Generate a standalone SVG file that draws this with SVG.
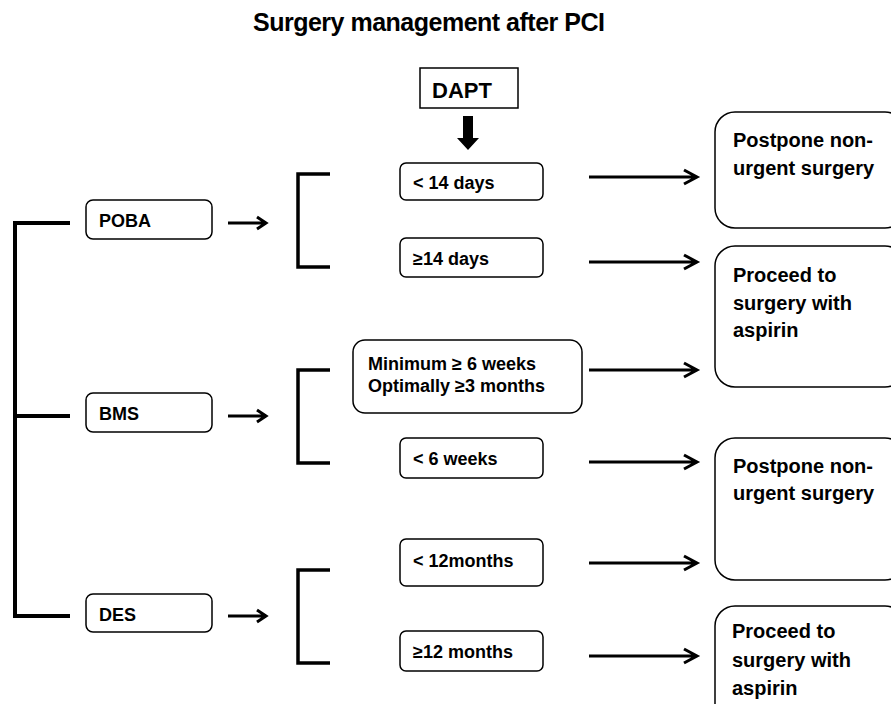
<svg xmlns="http://www.w3.org/2000/svg" width="891" height="704" viewBox="0 0 891 704">
<defs>
<style>
text{font-family:"Liberation Sans",Arial,sans-serif;font-weight:bold;fill:#000}
.t{font-size:18px}
.big{font-size:20px}
.box{fill:#fff;stroke:#000;stroke-width:1.5}
.tree{fill:none;stroke:#000;stroke-width:4}
.br{fill:none;stroke:#000;stroke-width:3.5}
.ar{fill:none;stroke:#000;stroke-width:3}
</style>
</defs>
<rect width="891" height="704" fill="#fff"/>
<text x="253" y="31" font-size="25" letter-spacing="-0.5">Surgery management after PCI</text>

<g id="dapt">
<rect class="box" x="420" y="68" width="98" height="40"/>
<text x="432" y="98" font-size="22">DAPT</text>
</g>

<g id="poba"><rect class="box" x="86" y="200" width="126" height="39" rx="7"/><text class="t" x="99" y="227">POBA</text></g>
<g id="bms"><rect class="box" x="86" y="393" width="126" height="39" rx="7"/><text class="t" x="99" y="420">BMS</text></g>
<g id="des"><rect class="box" x="86" y="594" width="126" height="38" rx="7"/><text class="t" x="99" y="621">DES</text></g>

<g id="lt14d"><rect class="box" x="400" y="163" width="143" height="37" rx="6"/><text class="t" x="413" y="189">&lt; 14 days</text></g>
<g id="ge14d"><rect class="box" x="400" y="238" width="143" height="39" rx="6"/><text class="t" x="413" y="265">≥14 days</text></g>
<g id="min6w"><rect class="box" x="353" y="340" width="229" height="73" rx="12"/>
<text class="t" x="368" y="370">Minimum ≥ 6 weeks</text>
<text class="t" x="368" y="392">Optimally ≥3 months</text></g>
<g id="lt6w"><rect class="box" x="400" y="438" width="143" height="40" rx="6"/><text class="t" x="413" y="465">&lt; 6 weeks</text></g>
<g id="lt12m"><rect class="box" x="400" y="539" width="143" height="47" rx="6"/><text class="t" x="413" y="567">&lt; 12months</text></g>
<g id="ge12m"><rect class="box" x="400" y="631" width="143" height="40" rx="6"/><text class="t" x="413" y="658">≥12 months</text></g>

<g id="postpone1"><rect class="box" x="715" y="112" width="190" height="116" rx="20"/>
<text class="big" x="733" y="147">Postpone non-</text><text class="big" x="733" y="175">urgent surgery</text></g>
<g id="proceed1"><rect class="box" x="715" y="246" width="190" height="141" rx="20"/>
<text class="big" x="733" y="282">Proceed to</text><text class="big" x="733" y="310">surgery with</text><text class="big" x="733" y="337">aspirin</text></g>
<g id="postpone2"><rect class="box" x="715" y="438" width="190" height="142" rx="20"/>
<text class="big" x="733" y="473">Postpone non-</text><text class="big" x="733" y="500">urgent surgery</text></g>
<g id="proceed2"><rect class="box" x="715" y="606" width="190" height="120" rx="20"/>
<text class="big" x="732" y="638">Proceed to</text><text class="big" x="732" y="667">surgery with</text><text class="big" x="732" y="695">aspirin</text></g>

<g id="connectors">
<path d="M463 116H473V138H479L468 150L457 138H463Z" fill="#000"/>
<path class="tree" d="M70 223H15V616H70M15 416H70"/>
<path class="br" d="M330 174H298V267H330M330 370H298V463H330M330 570H298V663H330"/>
<g class="ar">
<path d="M228 223H266M257 217L266 223L257 229"/>
<path d="M228 416H266M257 410L266 416L257 422"/>
<path d="M228 616H266M257 610L266 616L257 622"/>
<path d="M589 177H697M684 170L697 177L684 184"/>
<path d="M589 262H697M684 255L697 262L684 269"/>
<path d="M589 370H697M684 363L697 370L684 377"/>
<path d="M589 462H697M684 455L697 462L684 469"/>
<path d="M589 563H697M684 556L697 563L684 570"/>
<path d="M589 656H697M684 649L697 656L684 663"/>
</g>
</g>
</svg>
